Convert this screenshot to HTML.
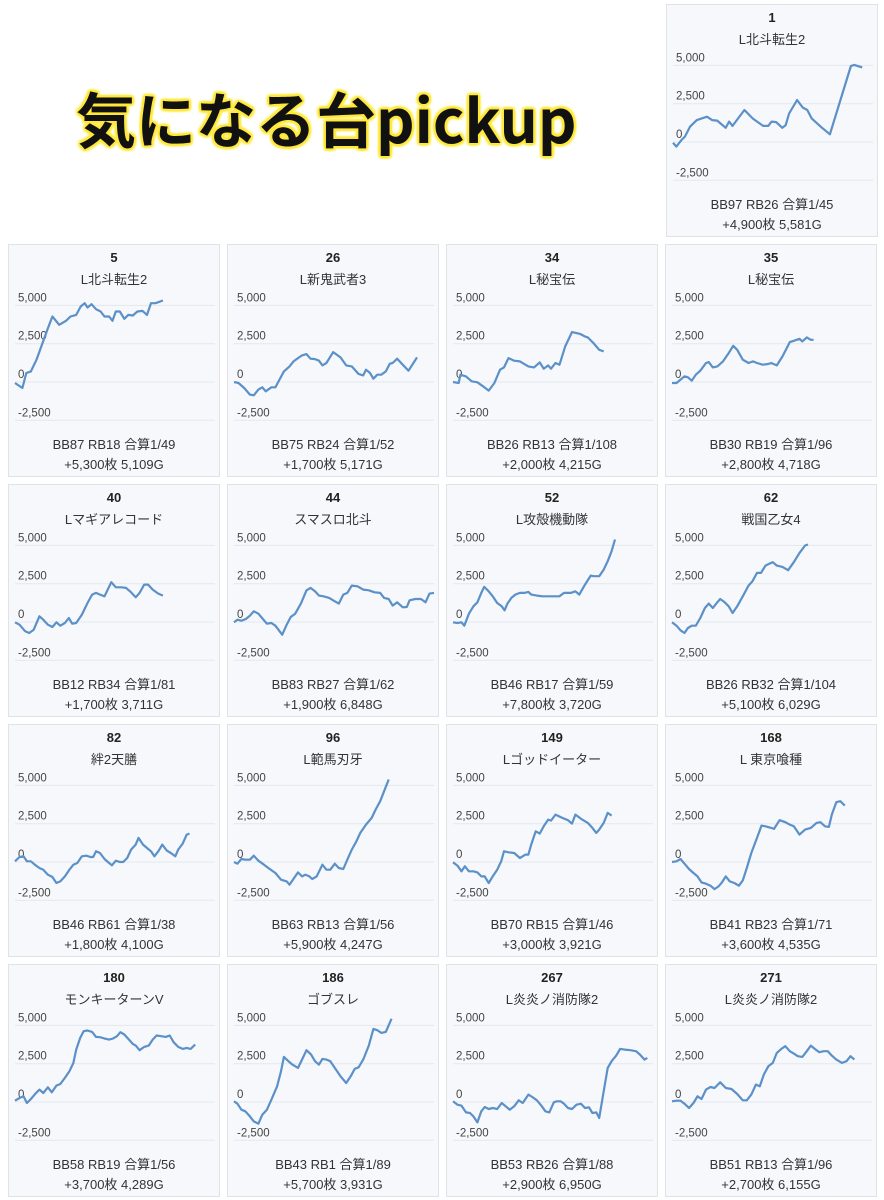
<!DOCTYPE html>
<html><head><meta charset="utf-8">
<style>
*{margin:0;padding:0;box-sizing:border-box}
body{width:884px;height:1200px;background:#fff;position:relative;overflow:hidden;font-family:"Liberation Sans","Noto Sans CJK JP",sans-serif;color:#333}
#title{position:absolute;left:76px;top:88px;font-family:"Noto Sans CJK JP","Liberation Sans",sans-serif;font-weight:700;font-size:60px;line-height:1;color:#111;white-space:nowrap;letter-spacing:0px;
text-shadow:0 0 2px #ffe83a,2px 0 1px #ffe83a,-2px 0 1px #ffe83a,0 2px 1px #ffe83a,0 -2px 1px #ffe83a,2px 2px 2px #ffe83a,-2px -2px 2px #ffe83a,2px -2px 2px #ffe83a,-2px 2px 2px #ffe83a,0 0 5px #fff07a}
.panel{position:absolute;width:212px;height:233px;background:#f6f8fb;border:1px solid #dfe3e8}
.num{position:absolute;left:0;right:0;top:5px;text-align:center;font-weight:700;font-size:13px;color:#222}
.name{position:absolute;left:0;right:0;top:24px;text-align:center;font-size:13px;color:#333}
.s1,.s2{position:absolute;left:0;right:0;text-align:center;font-size:13px;color:#333}
.s1{top:189px}.s2{top:209px}
svg{position:absolute;left:0;top:0;overflow:visible}
</style></head><body>
<div id="title">気になる台pickup</div>
<div id="root"></div>
<script>
// x = play progress units, v = coin difference
const t1=[0,6,15,21,30,42,60,69,78,93,99,105,126,141,159,168,174,182,193,199,205,219,229,237,245,263,277,314,320,334];
const v1=[-50,-300,130,350,1000,1430,1650,1430,1400,930,1330,1050,2090,1530,1050,1050,1330,1300,930,1100,1860,2740,2250,2090,1530,930,500,4960,5030,4870];
const t5=[0,13,20,28,38,58,66,78,90,98,108,116,123,128,135,143,151,158,166,172,178,185,193,200,208,216,225,233,240,248,261];
const v5=[-65,-390,586,694,1454,3515,4275,3732,3993,4275,4383,4926,5143,4861,5078,4752,4600,4275,4275,3993,4600,4600,4123,4383,4340,4600,4644,4383,5143,5143,5317];
const t26=[0,8,18,28,35,43,50,56,66,73,88,98,105,113,120,128,135,143,150,156,163,175,188,198,208,220,228,233,240,246,253,260,268,275,280,288,298,308,323];
const v26=[0,-65,-390,-824,-868,-499,-347,-608,-347,-347,694,1020,1345,1562,1736,1823,1519,1498,1389,1085,1237,1953,1606,1085,1020,521,434,803,586,217,477,477,694,1193,1237,1519,1128,738,1606];
const t34=[0,10,13,23,33,43,53,63,73,83,90,98,108,118,133,143,153,160,168,173,181,188,198,210,218,225,233,238,248,258,266];
const v34=[0,-65,477,368,43,-22,-282,-564,-65,803,955,1563,1389,1345,1020,955,1280,868,1085,868,1237,1128,2322,3255,3190,3125,2973,2908,2539,2105,1997];
const t35=[0,8,15,22,28,35,42,50,60,65,72,80,90,100,108,115,125,135,143,150,160,170,175,185,195,208,215,225,230,238,245,250];
const v35=[-65,-65,152,369,304,87,477,738,1237,1302,955,1020,1345,1888,2365,2105,1454,1237,1345,1237,1128,1172,1237,1085,1671,2604,2691,2821,2647,2908,2756,2756];
const t40=[0,8,18,25,33,43,50,58,66,73,80,88,95,101,108,118,128,136,143,150,158,170,178,188,196,203,213,220,228,235,243,253,261];
const v40=[-22,-174,-610,-719,-501,371,153,-174,-327,-22,-240,-65,262,-109,-65,480,1243,1788,1897,1788,1679,2595,2268,2268,2224,2006,1614,1897,2442,2442,2115,1853,1722];
const t44=[0,6,13,21,28,35,43,51,58,66,73,85,93,100,108,118,128,135,143,150,158,168,178,185,193,200,208,218,228,238,248,258,265,273,280,288,298,305,310,320,330,338,345,353];
const v44=[-22,153,87,196,414,698,545,196,-109,-65,-240,-828,-174,327,545,1199,2071,2224,2006,1722,1679,1570,1352,1199,1788,1897,2376,2333,2115,2071,1940,1897,1570,1504,1068,1286,959,981,1417,1504,1504,1286,1853,1897];
const t52=[0,8,15,20,28,36,43,50,55,63,70,78,86,91,96,103,110,118,126,133,138,148,158,168,178,188,196,208,216,223,233,243,248,258,266,273,280,286];
const v52=[-22,-65,-22,-240,545,1025,1286,1897,2289,2006,1679,1243,1025,763,1199,1570,1788,1897,1897,1962,1788,1722,1679,1679,1679,1679,1897,1897,2006,1788,2442,3030,2987,2987,3423,3968,4622,5385];
const t62=[0,8,15,22,28,35,42,50,58,65,72,80,85,93,100,107,115,125,135,142,150,157,165,172,178,185,195,205,215,225,235,240];
const v62=[-22,-240,-545,-719,-392,-240,-240,262,916,1199,916,1286,1504,1286,1025,589,1025,1679,2376,2660,3205,3205,3684,3815,3902,3684,3597,3379,3902,4513,4992,5058];
const t82=[0,8,15,21,28,35,43,50,58,66,73,80,88,96,103,110,118,126,133,138,143,150,158,166,171,178,185,191,198,205,213,218,226,233,240,246,253,260,268,275,283,288,296,303,308];
const v82=[44,327,371,44,44,-174,-392,-501,-828,-981,-1373,-1264,-937,-501,-174,-65,371,414,327,327,698,589,196,-65,-218,87,0,0,262,807,1134,1570,1134,916,698,371,698,1134,741,589,371,807,1199,1788,1853];
const t96=[0,6,13,20,28,35,43,53,63,73,83,93,98,106,113,120,126,133,138,146,156,163,170,178,185,193,200,208,216,223,233,243,250,258,265,273];
const v96=[0,-109,196,153,153,414,87,-174,-458,-719,-1155,-1264,-1482,-1046,-676,-937,-828,-937,-1112,-937,-174,-501,-501,-109,-392,-458,153,807,1352,1897,2442,2878,3423,3968,4622,5385];
const t149=[0,8,15,21,28,36,43,50,56,63,70,78,85,90,98,108,118,128,133,138,146,153,160,168,173,181,193,203,210,216,228,238,246,253,258,266,273,280];
const v149=[-22,-240,-610,-283,-610,-610,-676,-937,-937,-1373,-937,-501,44,698,632,589,262,480,480,1134,2006,1853,2333,2769,2704,3096,2878,2726,2508,3096,2769,2551,2224,1897,2115,2551,3205,3030];
const t168=[0,8,15,22,30,38,45,52,60,68,75,82,88,95,102,110,118,125,132,140,150,158,165,175,180,190,200,208,215,225,235,245,255,262,270,277,282,290,297,305];
const v168=[0,44,196,-109,-458,-719,-937,-1330,-1417,-1548,-1766,-1591,-1330,-937,-1264,-1373,-1548,-1199,-392,589,1570,2376,2333,2224,2159,2726,2595,2442,2333,1788,2115,2224,2551,2595,2333,2289,3096,3902,3968,3684];
const t180=[0,8,15,21,28,36,43,50,58,65,73,80,88,96,103,108,115,121,128,136,143,150,158,166,173,180,186,193,200,208,213,220,228,236,243,250,258,266,273,280,288,296,303,310,318];
const v180=[87,262,371,-65,196,545,807,589,959,632,1068,1177,1570,2006,2551,3423,4186,4622,4666,4578,4251,4229,4142,4076,4142,4295,4556,4404,4120,3793,3684,3379,3597,3684,4076,4338,4295,4251,4338,3902,3597,3466,3532,3466,3750];
const t186=[0,6,13,20,28,35,43,50,58,66,76,83,88,96,103,113,120,128,136,143,150,156,163,170,178,188,198,206,213,220,228,238,246,253,260,268,278];
const v186=[44,-109,-501,-610,-937,-1264,-1417,-828,-501,153,1025,2006,2943,2660,2442,2224,2769,3379,3096,2660,2442,2813,2769,2660,2224,1679,1243,1679,2159,2268,2769,3684,4774,4687,4513,4578,5428];
const t267=[0,8,15,23,30,36,43,50,56,63,70,78,86,93,100,108,116,123,133,140,148,156,163,170,178,183,190,196,203,210,218,226,233,240,246,253,258,266,273,280,288,295,303,313,323,330,338,343];
const v267=[44,-174,-240,-676,-719,-937,-1330,-610,-327,-458,-392,-458,-65,-283,-501,-283,109,-65,480,327,109,-240,-610,-676,-22,44,44,-109,-392,-458,-174,-109,-392,-349,-719,-676,-1046,698,2224,2660,3030,3466,3423,3379,3314,3096,2769,2878];
const t271=[0,8,15,22,30,38,45,52,60,68,75,85,95,105,115,125,132,140,148,155,162,170,178,185,193,200,208,215,222,230,238,245,252,260,268,275,282,290,300,308,315,322];
const v271=[44,87,87,-109,-392,-65,371,196,807,981,916,1286,916,850,523,109,109,480,1134,1025,1788,2333,2551,3205,3466,3640,3314,3161,2987,2943,3314,3684,3466,3248,3314,3314,3030,2769,2551,2660,2987,2769];
const yTicks=[5000,2500,0,-2500];
const yTickLabels=["5,000","2,500","0","-2,500"];

const panels=[
 {x:666,y:4,n:"1",name:"L北斗転生2",s1:"BB97 RB26 合算1/45",s2:"+4,900枚 5,581G",t:t1,v:v1},
 {x:8,y:244,n:"5",name:"L北斗転生2",s1:"BB87 RB18 合算1/49",s2:"+5,300枚 5,109G",t:t5,v:v5},
 {x:227,y:244,n:"26",name:"L新鬼武者3",s1:"BB75 RB24 合算1/52",s2:"+1,700枚 5,171G",t:t26,v:v26},
 {x:446,y:244,n:"34",name:"L秘宝伝",s1:"BB26 RB13 合算1/108",s2:"+2,000枚 4,215G",t:t34,v:v34},
 {x:665,y:244,n:"35",name:"L秘宝伝",s1:"BB30 RB19 合算1/96",s2:"+2,800枚 4,718G",t:t35,v:v35},
 {x:8,y:484,n:"40",name:"Lマギアレコード",s1:"BB12 RB34 合算1/81",s2:"+1,700枚 3,711G",t:t40,v:v40},
 {x:227,y:484,n:"44",name:"スマスロ北斗",s1:"BB83 RB27 合算1/62",s2:"+1,900枚 6,848G",t:t44,v:v44},
 {x:446,y:484,n:"52",name:"L攻殻機動隊",s1:"BB46 RB17 合算1/59",s2:"+7,800枚 3,720G",t:t52,v:v52},
 {x:665,y:484,n:"62",name:"戦国乙女4",s1:"BB26 RB32 合算1/104",s2:"+5,100枚 6,029G",t:t62,v:v62},
 {x:8,y:724,n:"82",name:"絆2天膳",s1:"BB46 RB61 合算1/38",s2:"+1,800枚 4,100G",t:t82,v:v82},
 {x:227,y:724,n:"96",name:"L範馬刃牙",s1:"BB63 RB13 合算1/56",s2:"+5,900枚 4,247G",t:t96,v:v96},
 {x:446,y:724,n:"149",name:"Lゴッドイーター",s1:"BB70 RB15 合算1/46",s2:"+3,000枚 3,921G",t:t149,v:v149},
 {x:665,y:724,n:"168",name:"L 東京喰種",s1:"BB41 RB23 合算1/71",s2:"+3,600枚 4,535G",t:t168,v:v168},
 {x:8,y:964,n:"180",name:"モンキーターンV",s1:"BB58 RB19 合算1/56",s2:"+3,700枚 4,289G",t:t180,v:v180},
 {x:227,y:964,n:"186",name:"ゴブスレ",s1:"BB43 RB1 合算1/89",s2:"+5,700枚 3,931G",t:t186,v:v186},
 {x:446,y:964,n:"267",name:"L炎炎ノ消防隊2",s1:"BB53 RB26 合算1/88",s2:"+2,900枚 6,950G",t:t267,v:v267},
 {x:665,y:964,n:"271",name:"L炎炎ノ消防隊2",s1:"BB51 RB13 合算1/96",s2:"+2,700枚 6,155G",t:t271,v:v271}
];
const xs=t=>6+t/1.765;
const ys=v=>137-v*38.3/2500;
const NS="http://www.w3.org/2000/svg";
const root=document.getElementById('root');
panels.forEach(p=>{
  const d=document.createElement('div');
  d.className='panel';
  d.style.left=p.x+'px';d.style.top=p.y+'px';
  
  
  const mk=(cls,txt,nm)=>{const e=document.createElement('div');e.className=cls;e.textContent=txt;
    
    
    d.appendChild(e);};
  mk('num',p.n,'machine-number');
  mk('name',p.name,'machine-name');
  mk('s1',p.s1,'bonus-stats');
  mk('s2',p.s2,'result-stats');
  const svg=document.createElementNS(NS,'svg');
  svg.setAttribute('width','212');svg.setAttribute('height','233');
  
  
  yTicks.forEach((tv,i)=>{
    const y=ys(tv);
    const l=document.createElementNS(NS,'line');
    l.setAttribute('x1',6);l.setAttribute('x2',206);l.setAttribute('y1',y);l.setAttribute('y2',y);
    l.setAttribute('stroke','#e4e8ee');l.setAttribute('stroke-width','1');
    
    
    svg.appendChild(l);
    const tx=document.createElementNS(NS,'text');
    tx.setAttribute('x',9);tx.setAttribute('y',y-4);
    tx.setAttribute('font-size','11.5');tx.setAttribute('fill','#444');
    tx.setAttribute('font-family','Liberation Sans, sans-serif');
    tx.textContent=yTickLabels[i];
    
    
    svg.appendChild(tx);
  });
  const pts=p.t.map((t,i)=>xs(t).toFixed(1)+','+ys(p.v[i]).toFixed(1)).join(' ');
  const pl=document.createElementNS(NS,'polyline');
  pl.setAttribute('points',pts);pl.setAttribute('fill','none');
  pl.setAttribute('stroke','#5b90c8');pl.setAttribute('stroke-width','2.2');
  pl.setAttribute('stroke-linejoin','round');
  
  
  svg.appendChild(pl);
  d.appendChild(svg);
  root.appendChild(d);
});
</script>
</body></html>
